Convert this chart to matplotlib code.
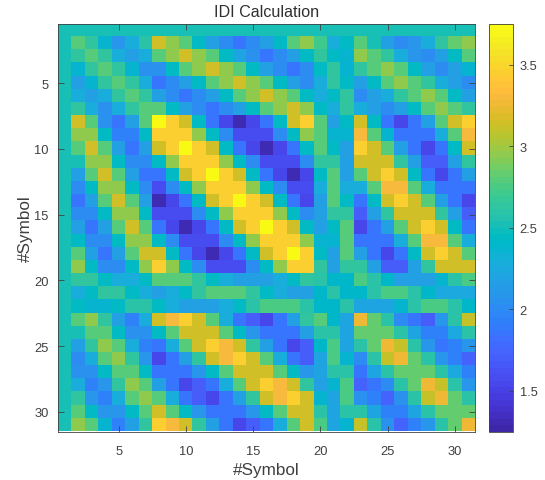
from matplotlib import pyplot as plt
from matplotlib.colors import LinearSegmentedColormap
import numpy as np

plt.rcParams['font.family'] = ['Liberation Sans', 'DejaVu Sans']

# IDI matrix, one row per symbol
idi = [
[2.5]*31,
[2.5,2.8,2.65,2.35,2.1,2.3,2.6,3.15,2.95,2.8,2.45,2.15,2.0,1.85,2.0,2.15,2.45,2.8,2.95,2.7,2.3,2.45,2.8,2.5,2.15,2.0,2.1,2.3,2.65,2.85,2.95],
[2.5,2.65,2.8,2.65,2.3,2.15,2.3,2.8,2.95,3.15,2.95,2.8,2.45,2.2,2.05,1.85,2.0,2.15,2.45,2.65,2.45,2.35,2.95,2.8,2.65,2.3,2.1,2.0,2.15,2.45,2.8],
[2.5,2.35,2.65,2.8,2.65,2.35,2.05,2.05,2.45,2.8,2.95,3.15,2.95,2.8,2.45,2.15,2.0,1.85,2.0,2.45,2.65,2.35,2.65,2.8,2.95,2.8,2.45,2.15,2.0,2.15,2.35],
[2.5,2.15,2.35,2.65,2.8,2.65,2.3,1.85,2.0,2.15,2.45,2.8,2.95,3.15,2.95,2.8,2.45,2.15,2.0,2.3,2.65,2.45,2.15,2.45,2.8,2.95,2.8,2.65,2.3,2.15,2.0],
[2.5,2.3,2.15,2.3,2.65,2.8,2.65,2.15,2.0,1.85,2.0,2.15,2.45,2.8,2.95,3.15,2.95,2.8,2.45,2.3,2.45,2.65,2.0,2.15,2.3,2.65,2.8,2.95,2.8,2.45,2.15],
[2.5,2.65,2.3,2.05,2.3,2.65,2.8,2.8,2.45,2.15,2.0,1.85,2.0,2.15,2.45,2.8,2.95,3.15,2.95,2.45,2.3,2.65,2.3,2.15,2.0,2.15,2.45,2.8,2.95,2.8,2.65],
[2.5,3.15,2.8,2.05,1.85,2.15,2.8,3.75,3.45,3.15,2.45,1.85,1.55,1.3,1.55,1.85,2.45,3.15,3.45,2.8,2.15,2.45,3.15,2.45,1.85,1.55,1.85,2.15,2.8,3.15,3.45],
[2.5,2.95,2.95,2.45,1.95,1.95,2.45,3.45,3.45,3.45,2.95,2.45,2.0,1.6,1.6,1.6,2.0,2.45,2.95,2.8,2.35,2.35,3.3,2.8,2.35,1.85,1.85,1.85,2.3,2.8,3.3],
[2.5,2.8,3.15,2.8,2.15,1.85,2.15,3.15,3.45,3.75,3.45,3.15,2.45,1.85,1.55,1.3,1.55,1.85,2.45,2.8,2.45,2.15,3.45,3.15,2.8,2.15,1.85,1.55,1.85,2.45,3.15],
[2.5,2.5,2.95,2.95,2.45,2.0,2.0,2.45,2.95,3.45,3.45,3.45,2.95,2.45,2.0,1.6,1.6,1.6,2.0,2.65,2.65,2.15,3.15,3.15,3.15,2.65,2.15,1.7,1.7,2.15,2.65],
[2.5,2.15,2.8,3.15,2.8,2.15,1.85,1.85,2.45,3.15,3.45,3.75,3.45,3.15,2.45,1.85,1.55,1.3,1.55,2.45,2.8,2.15,2.8,3.15,3.45,3.15,2.45,1.85,1.55,1.85,2.15],
[2.5,2.0,2.45,2.95,2.95,2.45,2.0,1.6,2.0,2.45,2.95,3.45,3.45,3.45,2.95,2.45,2.0,1.6,1.6,2.3,2.8,2.3,2.3,2.8,3.3,3.3,2.8,2.3,1.85,1.85,1.85],
[2.5,1.85,2.15,2.8,3.15,2.8,2.15,1.3,1.55,1.85,2.45,3.15,3.45,3.75,3.45,3.15,2.45,1.85,1.55,2.15,2.8,2.45,1.85,2.45,3.15,3.45,3.15,2.8,2.15,1.85,1.55],
[2.5,2.0,2.0,2.45,2.95,2.95,2.45,1.6,1.6,1.6,2.0,2.45,2.95,3.45,3.45,3.45,2.95,2.45,2.0,2.15,2.65,2.65,1.7,2.15,2.65,3.15,3.15,3.15,2.65,2.15,1.7],
[2.5,2.15,1.85,2.15,2.8,3.15,2.8,1.85,1.55,1.3,1.55,1.85,2.45,3.15,3.45,3.75,3.45,3.15,2.45,2.15,2.45,2.8,1.55,1.85,2.15,2.8,3.15,3.45,3.15,2.45,1.85],
[2.5,2.45,2.0,2.0,2.45,2.95,2.95,2.45,2.0,1.6,1.6,1.6,2.0,2.45,2.95,3.45,3.45,3.45,2.95,2.35,2.35,2.8,1.85,1.85,1.85,2.3,2.8,3.3,3.3,2.8,2.3],
[2.5,2.8,2.15,1.85,2.15,2.8,3.15,3.15,2.45,1.85,1.55,1.3,1.55,1.85,2.45,3.15,3.45,3.75,3.45,2.45,2.15,2.8,2.15,1.85,1.55,1.85,2.45,3.15,3.45,3.15,2.8],
[2.5,2.95,2.45,2.0,2.0,2.45,2.95,3.45,2.95,2.45,2.0,1.6,1.6,1.6,2.0,2.45,2.95,3.45,3.45,2.65,2.15,2.65,2.65,2.15,1.7,1.7,2.15,2.65,3.15,3.15,3.15],
[2.5,2.65,2.65,2.45,2.3,2.3,2.45,2.8,2.8,2.8,2.65,2.45,2.3,2.15,2.15,2.15,2.3,2.45,2.65,2.6,2.4,2.4,2.75,2.6,2.4,2.15,2.15,2.15,2.35,2.6,2.75],
[2.5,2.3,2.45,2.65,2.65,2.45,2.3,2.15,2.3,2.45,2.65,2.8,2.8,2.8,2.65,2.45,2.3,2.15,2.15,2.4,2.6,2.4,2.4,2.6,2.75,2.75,2.6,2.4,2.25,2.25,2.25],
[2.5,2.45,2.35,2.35,2.45,2.6,2.6,2.45,2.3,2.15,2.15,2.15,2.3,2.45,2.6,2.75,2.75,2.75,2.6,2.4,2.4,2.6,2.2,2.2,2.2,2.35,2.6,2.75,2.75,2.6,2.4],
[2.5,2.8,2.95,2.65,2.15,1.95,2.3,3.15,3.3,3.45,3.15,2.8,2.3,1.85,1.7,1.55,1.85,2.15,2.65,2.8,2.4,2.2,3.25,2.85,2.6,2.0,1.85,1.7,2.1,2.6,3.1],
[2.5,2.5,2.8,2.8,2.45,2.05,2.05,2.45,2.8,3.15,3.15,3.15,2.8,2.45,2.1,1.85,1.85,1.85,2.15,2.6,2.6,2.2,2.85,2.85,2.85,2.6,2.2,1.95,1.95,2.25,2.6],
[2.5,2.15,2.65,2.95,2.8,2.3,1.95,1.85,2.3,2.8,3.15,3.45,3.3,3.15,2.65,2.15,1.85,1.55,1.7,2.4,2.75,2.2,2.6,2.85,3.25,3.1,2.6,2.1,1.85,1.95,2.1],
[2.5,2.0,2.3,2.8,2.95,2.65,2.1,1.55,1.85,2.15,2.65,3.15,3.3,3.45,3.15,2.8,2.3,1.85,1.7,2.2,2.75,2.35,2.0,2.6,3.1,3.25,2.85,2.6,2.1,1.95,1.75],
[2.5,2.05,2.05,2.45,2.8,2.8,2.45,1.85,1.85,1.85,2.1,2.45,2.8,3.15,3.15,3.15,2.8,2.45,2.1,2.2,2.6,2.6,1.85,2.2,2.6,2.85,2.85,2.85,2.6,2.25,1.95],
[2.5,2.3,1.95,2.1,2.65,2.95,2.8,2.15,1.85,1.55,1.7,1.85,2.3,2.8,3.15,3.45,3.3,3.15,2.65,2.15,2.35,2.75,1.75,1.85,2.0,2.6,2.85,3.25,3.1,2.6,2.1],
[2.5,2.65,2.1,1.95,2.3,2.8,2.95,2.8,2.3,1.85,1.7,1.55,1.85,2.15,2.65,3.15,3.3,3.45,3.15,2.35,2.2,2.75,2.05,1.95,1.75,2.05,2.6,3.1,3.25,2.85,2.6],
[2.5,2.8,2.45,2.1,2.1,2.45,2.8,3.15,2.8,2.45,2.1,1.85,1.85,1.85,2.1,2.45,2.8,3.15,3.15,2.6,2.2,2.6,2.6,2.2,1.95,1.95,2.2,2.6,2.85,2.85,2.85],
[2.5,2.95,2.8,2.35,1.95,2.15,2.65,3.45,3.3,3.15,2.65,2.15,1.85,1.55,1.7,1.85,2.3,2.8,3.15,2.75,2.2,2.35,3.1,2.6,2.05,1.75,1.95,2.1,2.6,2.85,3.25],
]
x_ticks = [5, 10, 15, 20, 25, 30]
y_ticks = [5, 10, 15, 20, 25, 30]
cbar_ticks = [1.5, 2, 2.5, 3, 3.5]
cbar_labels = ['1.5', '2', '2.5', '3', '3.5']

# old matlab parula table
parula = [
(.2422,.1504,.6603),(.2504,.1650,.7076),(.2578,.1818,.7511),(.2647,.1978,.7952),
(.2706,.2147,.8364),(.2751,.2342,.8710),(.2783,.2559,.8991),(.2803,.2782,.9221),
(.2813,.3006,.9414),(.2810,.3228,.9579),(.2795,.3447,.9717),(.2760,.3667,.9829),
(.2699,.3892,.9906),(.2602,.4123,.9952),(.2440,.4358,.9988),(.2206,.4603,.9973),
(.1963,.4847,.9892),(.1834,.5074,.9798),(.1786,.5289,.9682),(.1764,.5499,.9520),
(.1687,.5703,.9359),(.1540,.5902,.9218),(.1460,.6091,.9079),(.1380,.6276,.8973),
(.1248,.6459,.8883),(.1113,.6635,.8763),(.0952,.6798,.8598),(.0689,.6948,.8394),
(.0297,.7082,.8163),(.0036,.7203,.7917),(.0067,.7312,.7660),(.0433,.7411,.7394),
(.0964,.7500,.7120),(.1408,.7584,.6842),(.1717,.7670,.6554),(.1938,.7758,.6251),
(.2161,.7843,.5923),(.2470,.7918,.5567),(.2906,.7973,.5188),(.3406,.8008,.4789),
(.3909,.8029,.4354),(.4456,.8024,.3909),(.5044,.7993,.3480),(.5616,.7942,.3045),
(.6174,.7876,.2612),(.6720,.7793,.2227),(.7242,.7698,.1910),(.7738,.7598,.1646),
(.8203,.7498,.1535),(.8634,.7406,.1596),(.9035,.7330,.1774),(.9393,.7288,.2100),
(.9728,.7298,.2394),(.9956,.7434,.2371),(.9970,.7659,.2199),(.9952,.7893,.2028),
(.9892,.8136,.1885),(.9786,.8386,.1766),(.9676,.8639,.1643),(.9610,.8890,.1537),
(.9597,.9135,.1423),(.9628,.9373,.1265),(.9691,.9606,.1064),(.9769,.9839,.0805),
]
cmap = LinearSegmentedColormap.from_list('parula', parula, N=64)

W, H = 545, 481
gray = '#404040'
fig = plt.figure(figsize=(W/100, H/100), dpi=100)
ax = fig.add_axes([58.3/W, 1-432.5/H, (475-58.3)/W, (432.5-25)/H])
im = ax.imshow(np.array(idi), cmap=cmap, vmin=1.25, vmax=3.75, aspect='auto',
               extent=[0.5, 31.5, 31.5, 0.5], interpolation='nearest')
ax.set_xticks(x_ticks)
ax.set_yticks(y_ticks)
ax.tick_params(direction='in', length=4, width=0.6, color=gray, labelcolor=gray, labelsize=9.3)
ax.tick_params(axis='x', pad=10)
ax.tick_params(axis='y', pad=7)
ax.xaxis.set_ticks_position('both')
ax.yaxis.set_ticks_position('both')
ax.set_xlabel('#Symbol', fontsize=12.3, color=gray, labelpad=3)
ax.set_ylabel('#Symbol', fontsize=12.3, color=gray, labelpad=1)
ax.set_title('IDI Calculation', fontsize=11.6, color='#303030', pad=6)
for s in ax.spines.values():
    s.set_linewidth(0.6)
    s.set_color(gray)

cax = fig.add_axes([489/W, 1-432.5/H, (512.7-489)/W, (432.5-25)/H])
cb = fig.colorbar(im, cax=cax)
cb.set_ticks(cbar_ticks)
cb.set_ticklabels(cbar_labels)
cax.tick_params(direction='in', length=3, width=0.6, color=gray, labelcolor=gray, labelsize=9.3, pad=5)
cb.outline.set_linewidth(0.6)
cb.outline.set_edgecolor(gray)

fig.savefig('out.png', dpi=100)
